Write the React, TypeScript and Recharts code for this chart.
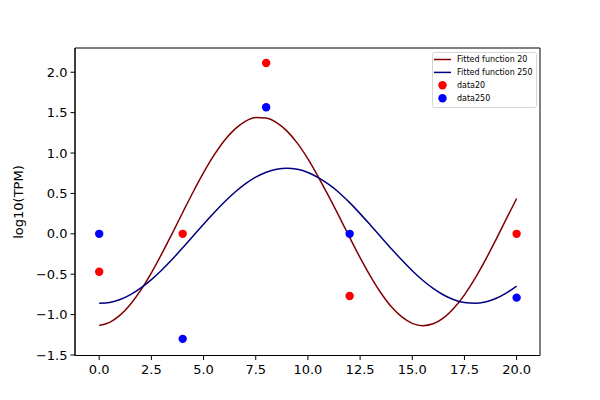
import { ComposedChart, Line, Scatter, XAxis, YAxis, ReferenceArea, Legend } from 'recharts';

// sample x positions of the fitted curves
const curveX = [
  0, 0.5, 1, 1.5, 2, 2.5, 3, 3.5, 4, 4.5, 5, 5.5, 6, 6.5, 7, 7.5, 8, 8.5, 9, 9.5, 10,
  10.5, 11, 11.5, 12, 12.5, 13, 13.5, 14, 14.5, 15, 15.5, 16, 16.5, 17, 17.5, 18, 18.5, 19, 19.5, 20,
];
const fit20 = [
  -1.135, -1.096, -1.007, -0.871, -0.694, -0.483, -0.246, 0.006, 0.264, 0.518, 0.757, 0.973, 1.156, 1.296, 1.392, 1.439, 1.434, 1.377, 1.271, 1.119, 0.927,
  0.703, 0.463, 0.212, -0.045, -0.295, -0.527, -0.733, -0.904, -1.028, -1.108, -1.137, -1.114, -1.041, -0.919, -0.755, -0.555, -0.326, -0.077, 0.181, 0.437,
];
const fit250 = [
  -0.86, -0.849, -0.813, -0.752, -0.669, -0.567, -0.447, -0.315, -0.173, -0.027, 0.119, 0.261, 0.394, 0.515, 0.618, 0.702, 0.763, 0.8, 0.812, 0.798, 0.759,
  0.696, 0.611, 0.509, 0.386, 0.25, 0.107, -0.039, -0.185, -0.325, -0.457, -0.575, -0.676, -0.757, -0.815, -0.851, -0.86, -0.843, -0.801, -0.734, -0.647,
];

const sampleX = [0, 4, 8, 12, 20];
const data20 = [-0.47, 0, 2.115, -0.77, 0];
const data250 = [0, -1.3, 1.567, 0, -0.79];

const xTicks = [0, 2.5, 5, 7.5, 10, 12.5, 15, 17.5, 20];
const yTicks = [-1.5, -1, -0.5, 0, 0.5, 1, 1.5, 2];

const X_DOMAIN: [number, number] = [-1.16, 21.12];
const Y_DOMAIN: [number, number] = [-1.506, 2.3];

const FONT = '"DejaVu Sans", sans-serif';

const fmt = (v: number) => v.toFixed(1).replace('-', '\u2212');

const line20 = curveX.map((x, i) => ({ x, y: fit20[i] }));
const line250 = curveX.map((x, i) => ({ x, y: fit250[i] }));
const pts20 = sampleX.map((x, i) => ({ x, y: data20[i] }));
const pts250 = sampleX.map((x, i) => ({ x, y: data250[i] }));

const legendItems = [
  { label: 'Fitted function 20', color: '#800000', kind: 'line' },
  { label: 'Fitted function 250', color: '#000080', kind: 'line' },
  { label: 'data20', color: '#ff0000', kind: 'dot' },
  { label: 'data250', color: '#0000ff', kind: 'dot' },
];

function MplLegend() {
  return (
    <svg width={105} height={56} style={{ display: 'block' }}>
      <rect x={0.5} y={0.5} width={104} height={55} rx={2} fill="rgba(255,255,255,0.8)" stroke="#d6d6d6" />
      {legendItems.map((item, i) => {
        const cy = 7.5 + i * 12.9;
        return (
          <g key={item.label}>
            {item.kind === 'line' ? (
              <line x1={2} x2={19} y1={cy} y2={cy} stroke={item.color} strokeWidth={1.5} />
            ) : (
              <circle cx={10.5} cy={cy} r={4.2} fill={item.color} />
            )}
            <text x={25} y={cy + 2.8} fontSize={8} fontFamily={FONT} fill="#000">
              {item.label}
            </text>
          </g>
        );
      })}
    </svg>
  );
}

const dotShape = (color: string) => (props: any) => <circle cx={props.cx} cy={props.cy} r={4.2} fill={color} />;

export default function App() {
  return (
    <div style={{ position: 'absolute', left: 0, top: 0, width: 600, height: 400, background: '#fff' }}>
      <ComposedChart width={600} height={400} margin={{ top: 48, right: 60, bottom: 0, left: 0 }}>
        <XAxis
          dataKey="x"
          type="number"
          domain={X_DOMAIN}
          ticks={xTicks}
          tickFormatter={fmt}
          allowDataOverflow
          height={44.5}
          stroke="#000"
          tickSize={4.5}
          tickMargin={5}
          tick={{ fill: '#000', fontSize: 13, fontFamily: FONT }}
        />
        <YAxis
          dataKey="y"
          type="number"
          domain={Y_DOMAIN}
          ticks={yTicks}
          tickFormatter={fmt}
          allowDataOverflow
          width={75}
          stroke="#000"
          tickSize={4.5}
          tickMargin={3}
          tick={{ fill: '#000', fontSize: 13, fontFamily: FONT }}
          label={{
            content: () => (
              <text x={23} y={202} transform="rotate(-90 23 202)" textAnchor="middle" fontSize={13} fontFamily={FONT} fill="#000">
                log10(TPM)
              </text>
            ),
          }}
        />
        <ReferenceArea x1={X_DOMAIN[0]} x2={X_DOMAIN[1]} y1={Y_DOMAIN[0]} y2={Y_DOMAIN[1]} fill="none" stroke="#000" strokeWidth={1} ifOverflow="visible" />
        <Line data={line20} dataKey="y" type="monotone" stroke="#800000" strokeWidth={1.5} dot={false} activeDot={false} isAnimationActive={false} />
        <Line data={line250} dataKey="y" type="monotone" stroke="#000080" strokeWidth={1.5} dot={false} activeDot={false} isAnimationActive={false} />
        <Scatter data={pts20} dataKey="y" shape={dotShape('#ff0000')} isAnimationActive={false} />
        <Scatter data={pts250} dataKey="y" shape={dotShape('#0000ff')} isAnimationActive={false} />
        <Legend
          layout="vertical"
          align="center"
          verticalAlign="middle"
          content={() => <MplLegend />}
          wrapperStyle={{ top: 51.5, left: 431.5, width: 105, height: 56 }}
        />
      </ComposedChart>
    </div>
  );
}
